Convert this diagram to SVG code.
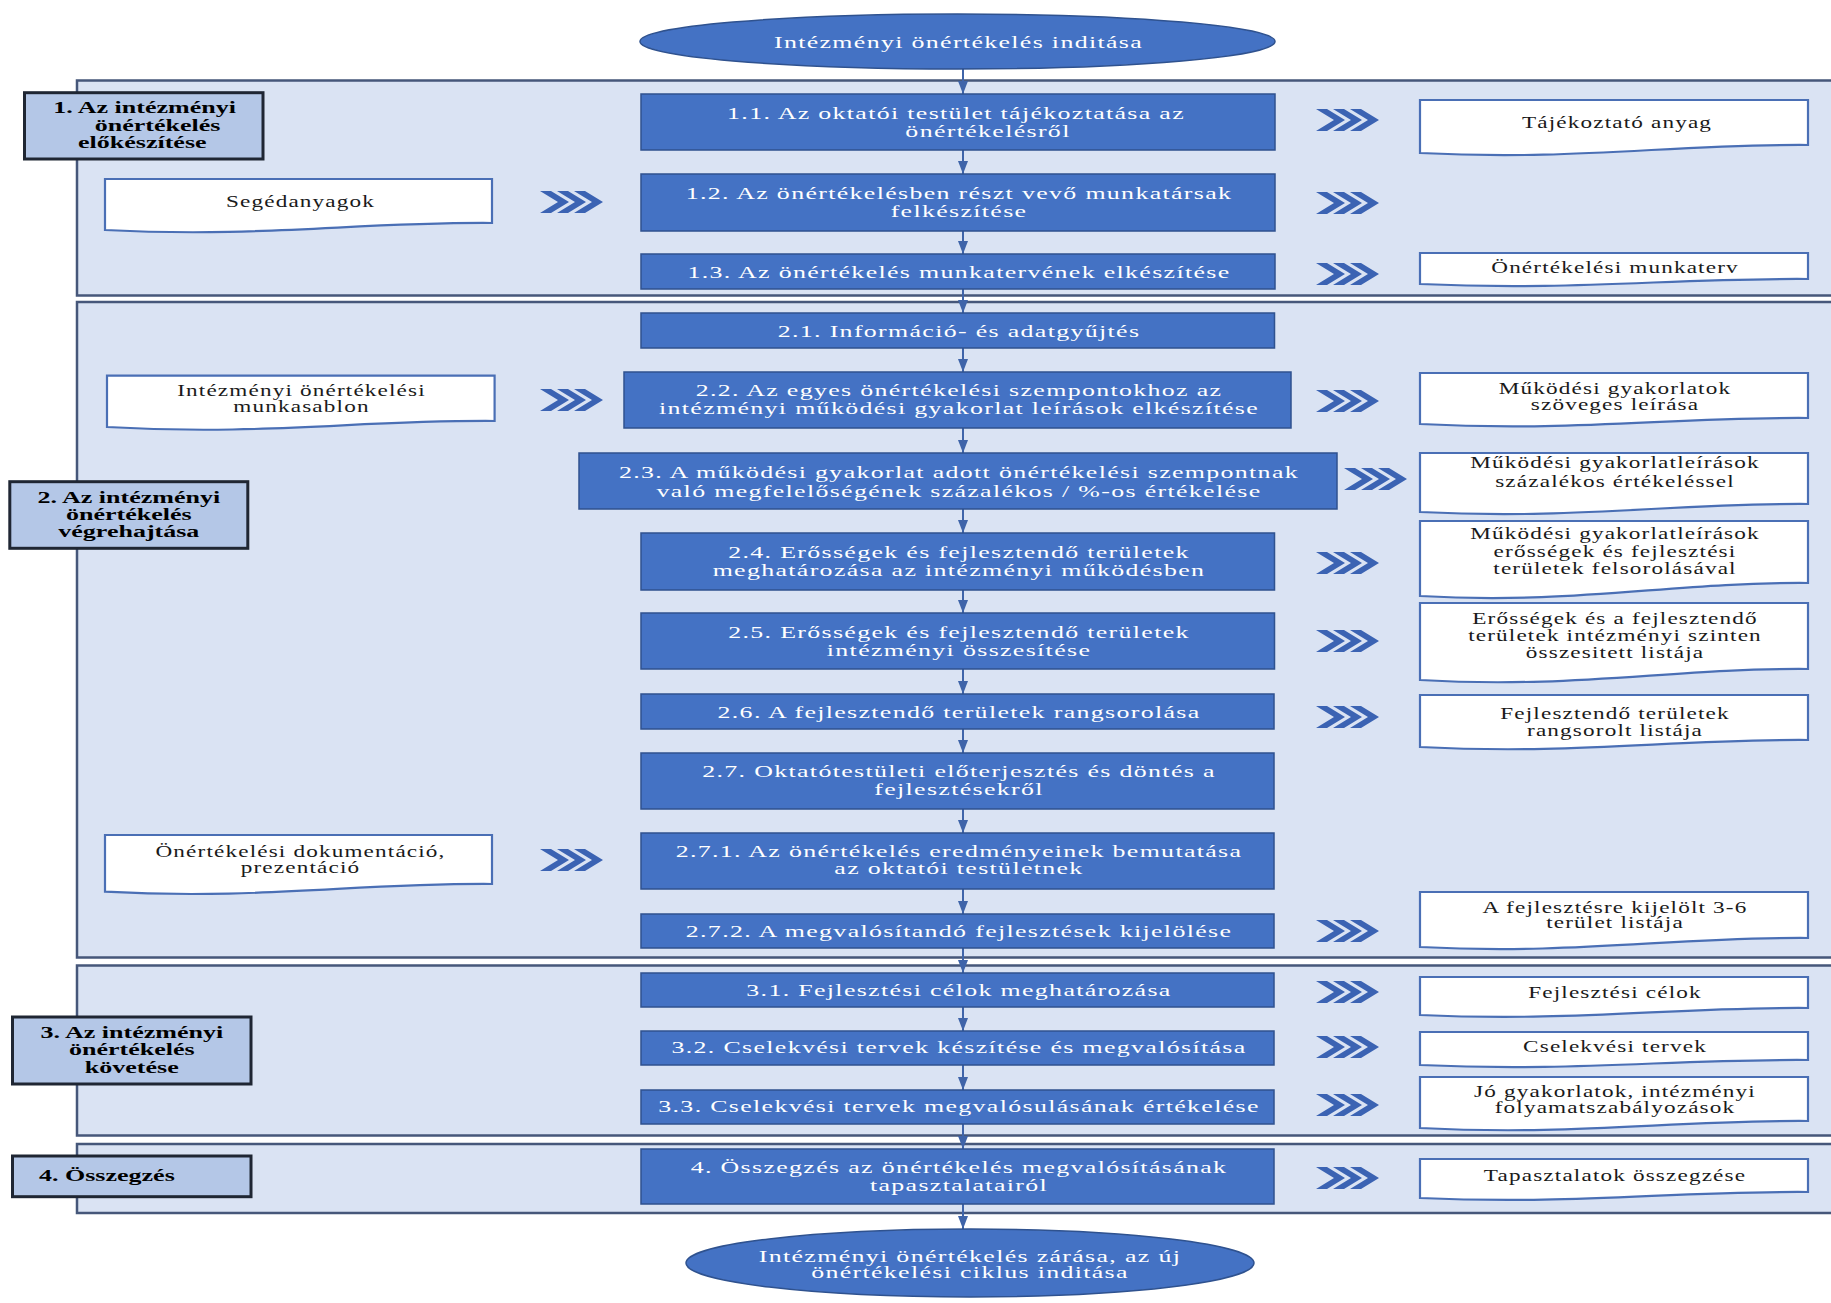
<svg xmlns="http://www.w3.org/2000/svg" xmlns:xlink="http://www.w3.org/1999/xlink" width="1831" height="1303" viewBox="0 0 1831 1303">
<style>
.panel{fill:#DAE3F3;stroke:#46577A;stroke-width:2.5}
.proc{fill:#4472C4;stroke:#2F528F;stroke-width:1.5}
.term{fill:#4472C4;stroke:#2F528F;stroke-width:1.5}
.lab{fill:#B4C7E7;stroke:#1F2633;stroke-width:3}
.doc{fill:#FFFFFF;stroke:#4A6FB5;stroke-width:2.2}
.pt{font-family:"Liberation Serif","Times New Roman",serif;font-size:17.5px;letter-spacing:0.9px;fill:#FFFFFF;text-anchor:middle}
.dt{font-family:"Liberation Serif","Times New Roman",serif;font-size:16px;letter-spacing:0.8px;fill:#1A1A1A;text-anchor:middle}
.lt{font-family:"Liberation Serif","Times New Roman",serif;font-size:17px;font-weight:bold;fill:#000000;text-anchor:middle}
.conn{stroke:#3F64A9;stroke-width:2;fill:none}
.chev{fill:#3B63B3}
</style>
<defs>
<marker id="ah" markerUnits="userSpaceOnUse" markerWidth="14" markerHeight="10" refX="13" refY="5" orient="auto">
<path d="M0,0 L13,5 L0,10 Z" fill="#3F64A9"/>
</marker>
<g id="chv" class="chev"><path d="M0,-11 H11 L29,0 L11,11 H0 L18,0 Z M17,-11 H28 L46,0 L28,11 H17 L35,0 Z M34,-11 H45 L63,0 L45,11 H34 L52,0 Z"/></g>
</defs>
<rect width="1831" height="1303" fill="#FFFFFF"/>

<g id="sections">
<rect id="sec1" class="panel" x="77" y="80.5" width="1760" height="215"/>
<rect id="sec2" class="panel" x="77" y="302" width="1760" height="655.5"/>
<rect id="sec3" class="panel" x="77" y="965.5" width="1760" height="170"/>
<rect id="sec4" class="panel" x="77" y="1144" width="1760" height="69"/>
</g>

<g id="connectors">
<line class="conn" x1="963" y1="69" x2="963" y2="94" marker-end="url(#ah)"/>
<line class="conn" x1="963" y1="150" x2="963" y2="174" marker-end="url(#ah)"/>
<line class="conn" x1="963" y1="231" x2="963" y2="254" marker-end="url(#ah)"/>
<line class="conn" x1="963" y1="289" x2="963" y2="313" marker-end="url(#ah)"/>
<line class="conn" x1="963" y1="348" x2="963" y2="372" marker-end="url(#ah)"/>
<line class="conn" x1="963" y1="428" x2="963" y2="453" marker-end="url(#ah)"/>
<line class="conn" x1="963" y1="509" x2="963" y2="533" marker-end="url(#ah)"/>
<line class="conn" x1="963" y1="590" x2="963" y2="613" marker-end="url(#ah)"/>
<line class="conn" x1="963" y1="669" x2="963" y2="694" marker-end="url(#ah)"/>
<line class="conn" x1="963" y1="729" x2="963" y2="753" marker-end="url(#ah)"/>
<line class="conn" x1="963" y1="809" x2="963" y2="833" marker-end="url(#ah)"/>
<line class="conn" x1="963" y1="889" x2="963" y2="914" marker-end="url(#ah)"/>
<line class="conn" x1="963" y1="948" x2="963" y2="973" marker-end="url(#ah)"/>
<line class="conn" x1="963" y1="1007" x2="963" y2="1031" marker-end="url(#ah)"/>
<line class="conn" x1="963" y1="1065" x2="963" y2="1090" marker-end="url(#ah)"/>
<line class="conn" x1="963" y1="1124" x2="963" y2="1149" marker-end="url(#ah)"/>
<line class="conn" x1="963" y1="1204" x2="963" y2="1229" marker-end="url(#ah)"/>
</g>

<g id="chevrons">
<use xlink:href="#chv" x="540" y="202"/>
<use xlink:href="#chv" x="540" y="400"/>
<use xlink:href="#chv" x="540" y="860"/>
<use xlink:href="#chv" x="1316" y="120"/>
<use xlink:href="#chv" x="1316" y="203"/>
<use xlink:href="#chv" x="1316" y="274"/>
<use xlink:href="#chv" x="1316" y="401"/>
<use xlink:href="#chv" x="1344" y="479"/>
<use xlink:href="#chv" x="1316" y="563"/>
<use xlink:href="#chv" x="1316" y="641"/>
<use xlink:href="#chv" x="1316" y="717"/>
<use xlink:href="#chv" x="1316" y="931"/>
<use xlink:href="#chv" x="1316" y="992"/>
<use xlink:href="#chv" x="1316" y="1047"/>
<use xlink:href="#chv" x="1316" y="1105"/>
<use xlink:href="#chv" x="1316" y="1178"/>
</g>

<g id="start">
<ellipse class="term" cx="957.5" cy="41.5" rx="317.5" ry="27.5"/>
<text class="pt" transform="translate(958.5 47.5) scale(1.48 1)">Intézményi önértékelés inditása</text>
</g>

<g id="label1">
<rect class="lab" x="24.5" y="92.7" width="238.5" height="66.3"/>
<text class="lt" transform="translate(0 0) scale(1.53 1)"><tspan x="94.5" y="113.3">1. Az intézményi</tspan><tspan x="103" y="131">önértékelés</tspan><tspan x="93" y="148.3">előkészítése</tspan></text>
</g>
<g id="label2">
<rect class="lab" x="9.8" y="481.7" width="238" height="66.6"/>
<text class="lt" transform="translate(128.8 0) scale(1.53 1)"><tspan x="0" y="502.7">2. Az intézményi</tspan><tspan x="0" y="520">önértékelés</tspan><tspan x="0" y="537.3">végrehajtása</tspan></text>
</g>
<g id="label3">
<rect class="lab" x="12.5" y="1017" width="238.5" height="67"/>
<text class="lt" transform="translate(131.8 0) scale(1.53 1)"><tspan x="0" y="1038">3. Az intézményi</tspan><tspan x="0" y="1055.3">önértékelés</tspan><tspan x="0" y="1072.6">követése</tspan></text>
</g>
<g id="label4">
<rect class="lab" x="12.5" y="1156" width="238.5" height="40.7"/>
<text class="lt" style="text-anchor:start" transform="translate(39 1181) scale(1.53 1)">4. Összegzés</text>
</g>

<g id="p11">
<rect class="proc" x="641" y="94" width="634" height="56"/>
<text class="pt" transform="translate(959 0) scale(1.48 1)"><tspan x="-2" y="119">1.1.  Az oktatói testület tájékoztatása az</tspan><tspan x="19.6" y="137">önértékelésről</tspan></text>
</g>
<g id="p12">
<rect class="proc" x="641" y="174" width="634" height="57"/>
<text class="pt" transform="translate(959 0) scale(1.48 1)"><tspan x="0" y="199">1.2.  Az önértékelésben részt vevő munkatársak</tspan><tspan x="0" y="217">felkészítése</tspan></text>
</g>
<g id="p13">
<rect class="proc" x="641" y="254" width="634" height="35"/>
<text class="pt" transform="translate(959 278) scale(1.48 1)">1.3.  Az önértékelés munkatervének elkészítése</text>
</g>
<g id="p21">
<rect class="proc" x="641" y="313" width="633.5" height="35"/>
<text class="pt" transform="translate(959 337) scale(1.48 1)">2.1. Információ- és adatgyűjtés</text>
</g>
<g id="p22">
<rect class="proc" x="624" y="372" width="667" height="56"/>
<text class="pt" transform="translate(959 0) scale(1.48 1)"><tspan x="0" y="396">2.2. Az egyes önértékelési szempontokhoz az</tspan><tspan x="0" y="414">intézményi működési gyakorlat leírások elkészítése</tspan></text>
</g>
<g id="p23">
<rect class="proc" x="579" y="453" width="758" height="56"/>
<text class="pt" transform="translate(959 0) scale(1.48 1)"><tspan x="0" y="478.3">2.3. A működési gyakorlat adott önértékelési szempontnak</tspan><tspan x="0" y="496.7">való megfelelőségének százalékos / %-os értékelése</tspan></text>
</g>
<g id="p24">
<rect class="proc" x="641" y="533" width="633.5" height="57"/>
<text class="pt" transform="translate(959 0) scale(1.48 1)"><tspan x="0" y="558.3">2.4. Erősségek és fejlesztendő területek</tspan><tspan x="0" y="576">meghatározása az intézményi működésben</tspan></text>
</g>
<g id="p25">
<rect class="proc" x="641" y="613" width="633.5" height="56"/>
<text class="pt" transform="translate(959 0) scale(1.48 1)"><tspan x="0" y="638">2.5. Erősségek és fejlesztendő területek</tspan><tspan x="0" y="656">intézményi összesítése</tspan></text>
</g>
<g id="p26">
<rect class="proc" x="641" y="694" width="633" height="35"/>
<text class="pt" transform="translate(959 717.5) scale(1.48 1)">2.6. A fejlesztendő területek rangsorolása</text>
</g>
<g id="p27">
<rect class="proc" x="641" y="753" width="633" height="56"/>
<text class="pt" transform="translate(959 0) scale(1.48 1)"><tspan x="0" y="777.3">2.7. Oktatótestületi előterjesztés és döntés a</tspan><tspan x="0" y="795">fejlesztésekről</tspan></text>
</g>
<g id="p271">
<rect class="proc" x="641" y="833" width="633" height="56"/>
<text class="pt" transform="translate(959 0) scale(1.48 1)"><tspan x="0" y="856.7">2.7.1. Az önértékelés eredményeinek bemutatása</tspan><tspan x="0" y="874.3">az oktatói testületnek</tspan></text>
</g>
<g id="p272">
<rect class="proc" x="641" y="914" width="633" height="34"/>
<text class="pt" transform="translate(959 937.3) scale(1.48 1)">2.7.2. A megvalósítandó fejlesztések kijelölése</text>
</g>
<g id="p31">
<rect class="proc" x="641" y="973" width="633" height="34"/>
<text class="pt" transform="translate(959 995.7) scale(1.48 1)">3.1. Fejlesztési célok meghatározása</text>
</g>
<g id="p32">
<rect class="proc" x="641" y="1031" width="633" height="34"/>
<text class="pt" transform="translate(959 1053.3) scale(1.48 1)">3.2. Cselekvési tervek készítése és megvalósítása</text>
</g>
<g id="p33">
<rect class="proc" x="641" y="1090" width="633" height="34"/>
<text class="pt" transform="translate(959 1112.3) scale(1.48 1)">3.3. Cselekvési tervek megvalósulásának értékelése</text>
</g>
<g id="p4">
<rect class="proc" x="641" y="1149" width="633" height="55"/>
<text class="pt" transform="translate(959 0) scale(1.48 1)"><tspan x="0" y="1172.7">4. Összegzés az önértékelés megvalósításának</tspan><tspan x="0" y="1190.7">tapasztalatairól</tspan></text>
</g>

<g id="end">
<ellipse class="term" cx="970" cy="1263" rx="284" ry="34"/>
<text class="pt" transform="translate(970 0) scale(1.48 1)"><tspan x="0" y="1261.7">Intézményi önértékelés zárása, az új</tspan><tspan x="0" y="1278.3">önértékelési ciklus inditása</tspan></text>
</g>

<g id="d_seged">
<path class="doc" d="M105,179 H492 V223 C357,222 260,238 105,230 Z"/>
<text class="dt" transform="translate(300.5 206.5) scale(1.45 1)">Segédanyagok</text>
</g>
<g id="d_sablon">
<path class="doc" d="M107,375.7 H494.6 V421 C359,420 262,436 107,427 Z"/>
<text class="dt" transform="translate(301.5 0) scale(1.45 1)"><tspan x="0" y="396">Intézményi önértékelési</tspan><tspan x="0" y="411.7">munkasablon</tspan></text>
</g>
<g id="d_dok">
<path class="doc" d="M105,835 H492 V884 C357,883 260,900 105,891.7 Z"/>
<text class="dt" transform="translate(300.5 0) scale(1.45 1)"><tspan x="0" y="856.7">Önértékelési dokumentáció,</tspan><tspan x="0" y="872.7">prezentáció</tspan></text>
</g>

<g id="d_taj">
<path class="doc" d="M1420,100 H1808 V145 C1672,144 1575,161 1420,153 Z"/>
<text class="dt" transform="translate(1617 128.3) scale(1.45 1)">Tájékoztató anyag</text>
</g>
<g id="d_mterv">
<path class="doc" d="M1420,253 H1808 V279 C1672,278 1575,291 1420,284 Z"/>
<text class="dt" transform="translate(1615 273.3) scale(1.45 1)">Önértékelési munkaterv</text>
</g>
<g id="d_22">
<path class="doc" d="M1420,373 H1808 V418 C1672,417 1575,432 1420,424 Z"/>
<text class="dt" transform="translate(1615 0) scale(1.45 1)"><tspan x="0" y="394">Működési gyakorlatok</tspan><tspan x="0" y="410">szöveges leírása</tspan></text>
</g>
<g id="d_23">
<path class="doc" d="M1420,453 H1808 V504 C1672,503 1575,520 1420,512 Z"/>
<text class="dt" transform="translate(1615 0) scale(1.45 1)"><tspan x="0" y="468.3">Működési gyakorlatleírások</tspan><tspan x="0" y="486.7">százalékos értékeléssel</tspan></text>
</g>
<g id="d_24">
<path class="doc" d="M1420,521 H1808 V583 C1672,582 1575,605 1420,596 Z"/>
<text class="dt" transform="translate(1615 0) scale(1.45 1)"><tspan x="0" y="539">Működési gyakorlatleírások</tspan><tspan x="0" y="556.7">erősségek és fejlesztési</tspan><tspan x="0" y="574">területek felsorolásával</tspan></text>
</g>
<g id="d_25">
<path class="doc" d="M1420,603 H1808 V669 C1672,668 1575,689 1420,680 Z"/>
<text class="dt" transform="translate(1615 0) scale(1.45 1)"><tspan x="0" y="624">Erősségek és a fejlesztendő</tspan><tspan x="0" y="641">területek intézményi szinten</tspan><tspan x="0" y="657.7">összesitett listája</tspan></text>
</g>
<g id="d_26">
<path class="doc" d="M1420,695 H1808 V740 C1672,739 1575,755 1420,747 Z"/>
<text class="dt" transform="translate(1615 0) scale(1.45 1)"><tspan x="0" y="719.3">Fejlesztendő területek</tspan><tspan x="0" y="736">rangsorolt listája</tspan></text>
</g>
<g id="d_272">
<path class="doc" d="M1420,892 H1808 V938 C1672,937 1575,955 1420,947 Z"/>
<text class="dt" transform="translate(1615 0) scale(1.45 1)"><tspan x="0" y="912.7">A fejlesztésre kijelölt 3-6</tspan><tspan x="0" y="928.3">terület listája</tspan></text>
</g>
<g id="d_31">
<path class="doc" d="M1420,977 H1808 V1008 C1672,1007 1575,1022 1420,1015 Z"/>
<text class="dt" transform="translate(1615 998.3) scale(1.45 1)">Fejlesztési célok</text>
</g>
<g id="d_32">
<path class="doc" d="M1420,1032 H1808 V1060 C1672,1059 1575,1072 1420,1065 Z"/>
<text class="dt" transform="translate(1615 1051.7) scale(1.45 1)">Cselekvési tervek</text>
</g>
<g id="d_33">
<path class="doc" d="M1420,1077 H1808 V1121 C1672,1120 1575,1136 1420,1128 Z"/>
<text class="dt" transform="translate(1615 0) scale(1.45 1)"><tspan x="0" y="1096.7">Jó gyakorlatok, intézményi</tspan><tspan x="0" y="1112.7">folyamatszabályozások</tspan></text>
</g>
<g id="d_4">
<path class="doc" d="M1420,1159 H1808 V1192 C1672,1191 1575,1205 1420,1198 Z"/>
<text class="dt" transform="translate(1615 1180.7) scale(1.45 1)">Tapasztalatok összegzése</text>
</g>
</svg>
